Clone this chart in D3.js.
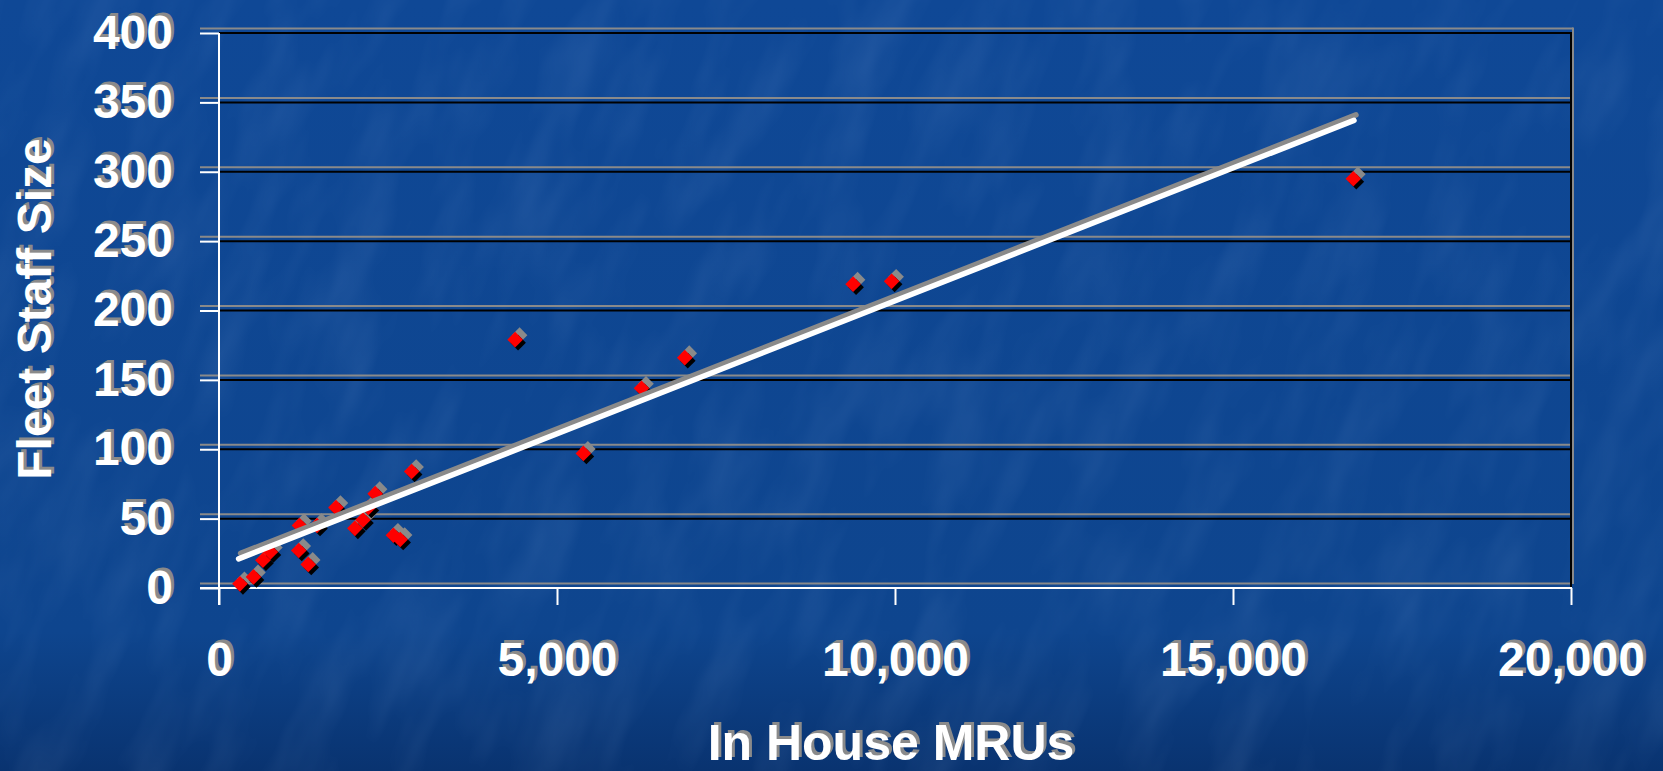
<!DOCTYPE html>
<html>
<head>
<meta charset="utf-8">
<script src="https://cdn.jsdelivr.net/npm/d3@7"></script>
<style>
  html, body { margin: 0; padding: 0; background: #0e4790; }
  svg { display: block; }
  text { font-family: "Liberation Sans", Arial, sans-serif; font-weight: bold; }
</style>
</head>
<body>
<svg id="chart" width="1663" height="771"></svg>
<script>
// In-house MRUs vs. fleet staff size
const mrus      = [310, 510, 650, 760, 1180, 1320, 1190, 1450, 1730, 2010, 2130, 2210, 2310, 2580, 2680, 2850, 4380, 5390, 6250, 6890, 9380, 9950, 16780];
const staffSize = [3, 8, 20, 26, 27, 17, 45, 45, 58, 43, 49, 58, 68, 38, 35, 84, 179, 97, 144, 166, 219, 221, 295];

// Linear trend line end points
const trendX = [290, 16790];
const trendY = [21, 337];

const xTicks = [0, 5000, 10000, 15000, 20000];
const yTicks = [0, 50, 100, 150, 200, 250, 300, 350, 400];

const xTitle = "In House MRUs";
const yTitle = "Fleet Staff Size";

const W = 1663, H = 771;
const plot = { left: 219, right: 1571, top: 33, bottom: 588 };

const svg = d3.select("#chart");
const defs = svg.append("defs");

// Background: deep blue with a soft mottled texture
const grad = defs.append("linearGradient").attr("id", "bg").attr("x1", 0).attr("y1", 0).attr("x2", 0).attr("y2", 1);
grad.append("stop").attr("offset", "0%").attr("stop-color", "#0f4896");
grad.append("stop").attr("offset", "82%").attr("stop-color", "#0e458e");
grad.append("stop").attr("offset", "100%").attr("stop-color", "#093370");

const tex = defs.append("filter").attr("id", "tex")
  .attr("filterUnits", "userSpaceOnUse")
  .attr("x", -900).attr("y", -900).attr("width", 3600).attr("height", 2700);
tex.append("feTurbulence").attr("type", "fractalNoise")
  .attr("baseFrequency", "0.022 0.007").attr("numOctaves", 3).attr("seed", 7);
tex.append("feColorMatrix").attr("type", "matrix")
  .attr("values", "0 0 0 0 0.5  0 0 0 0 0.68  0 0 0 0 1  1.0 0 0 0 -0.42");

svg.append("rect").attr("width", W).attr("height", H).attr("fill", "url(#bg)");
svg.append("g").attr("transform", `rotate(22 ${W / 2} ${H / 2})`)
  .append("rect").attr("x", -900).attr("y", -900).attr("width", 3600).attr("height", 2700)
  .attr("filter", "url(#tex)").attr("opacity", 0.18);

const x = d3.scaleLinear().domain([0, 20000]).range([plot.left, plot.right]);
const y = d3.scaleLinear().domain([0, 400]).range([plot.bottom, plot.top]);

const GRAY = "#8a8a8a";
const TICK_FONT = 48;

// Grid shadows (gray, offset upward)
const grid = svg.append("g");
grid.selectAll("line.gs").data(yTicks).join("line")
  .attr("x1", plot.left - 19).attr("x2", d => d === 400 ? plot.right + 2 : plot.right)
  .attr("y1", d => y(d) - 4.5).attr("y2", d => y(d) - 4.5)
  .attr("stroke", GRAY).attr("stroke-width", 2);
grid.append("line")
  .attr("x1", plot.right + 2).attr("x2", plot.right + 2)
  .attr("y1", y(400) - 5.5).attr("y2", plot.bottom - 4)
  .attr("stroke", GRAY).attr("stroke-width", 2);

// Black grid lines and right border
grid.selectAll("line.g").data(yTicks.filter(d => d > 0)).join("line")
  .attr("x1", plot.left).attr("x2", plot.right + 1)
  .attr("y1", d => y(d)).attr("y2", d => y(d))
  .attr("stroke", "#000").attr("stroke-width", 2);
grid.append("line")
  .attr("x1", plot.right).attr("x2", plot.right)
  .attr("y1", y(400) - 1).attr("y2", plot.bottom)
  .attr("stroke", "#000").attr("stroke-width", 2);

// Axes: a gray shadow copy for the labels, then the white axis
function yAxis(g, shadow) {
  g.call(d3.axisLeft(y).tickValues(yTicks).tickSize(19).tickSizeOuter(0).tickPadding(27).tickFormat(d3.format("d")));
  g.selectAll("text").attr("font-size", TICK_FONT).attr("fill", shadow ? GRAY : "#fff");
  g.selectAll("line").attr("stroke", shadow ? "none" : "#fff").attr("stroke-width", 2);
  g.select(".domain").remove();
}
function xAxis(g, shadow) {
  g.call(d3.axisBottom(x).tickValues(xTicks).tickSize(17).tickSizeOuter(0).tickPadding(37).tickFormat(d3.format(",")));
  g.selectAll("text").attr("font-size", TICK_FONT).attr("fill", shadow ? GRAY : "#fff");
  g.selectAll("line").attr("stroke", shadow ? "none" : "#fff").attr("stroke-width", 2);
  g.select(".domain").remove();
}

svg.append("g").attr("transform", `translate(${plot.left + 3},-3)`).call(yAxis, true);
svg.append("g").attr("transform", `translate(${plot.left},0)`).call(yAxis, false);
svg.append("g").attr("transform", `translate(3,${plot.bottom - 3})`).call(xAxis, true);
svg.append("g").attr("transform", `translate(0,${plot.bottom})`).call(xAxis, false);

// White axis lines
svg.append("line")
  .attr("x1", plot.left).attr("x2", plot.left)
  .attr("y1", plot.top).attr("y2", plot.bottom + 17)
  .attr("stroke", "#fff").attr("stroke-width", 2);
svg.append("line")
  .attr("x1", plot.left - 19).attr("x2", plot.right + 1)
  .attr("y1", plot.bottom).attr("y2", plot.bottom)
  .attr("stroke", "#fff").attr("stroke-width", 2);

// Axis titles with shadow
function shadowText(g, txt, attrs) {
  [[GRAY, 3, -3], ["#fff", 0, 0]].forEach(([fill, dx, dy]) => {
    const t = g.append("text").text(txt).attr("fill", fill).attr("font-size", attrs.size)
      .attr("text-anchor", "middle");
    if (attrs.rotate) {
      t.attr("transform", `translate(${attrs.x + dx},${attrs.y + dy}) rotate(-90)`);
    } else {
      t.attr("x", attrs.x + dx).attr("y", attrs.y + dy);
    }
  });
}
shadowText(svg, xTitle, { x: 891, y: 760, size: 50 });
shadowText(svg, yTitle, { x: 51, y: 309, size: 48, rotate: true });

// Data markers: gray and black shadows under a red diamond
const pts = mrus.map((m, i) => ({ m, s: staffSize[i] }));
const diamond = r => `M0,${-r}L${r},0L0,${r}L${-r},0Z`;
const marks = svg.append("g");
[[GRAY, 4.5, -4.5], ["#000", 3, 3], ["#ff0000", 0, 0]].forEach(([fill, dx, dy]) => {
  marks.append("g").selectAll("path").data(pts).join("path")
    .attr("d", diamond(7.8))
    .attr("transform", d => `translate(${x(d.m) + dx},${y(d.s) + dy})`)
    .attr("fill", fill);
});

// Trend line with its gray shadow
const line = d3.line().x(d => x(d[0])).y(d => y(d[1]));
const trend = trendX.map((v, i) => [v, trendY[i]]);
svg.append("path").attr("d", line(trend)).attr("transform", "translate(2,-5.5)")
  .attr("fill", "none").attr("stroke", GRAY).attr("stroke-width", 5.5).attr("stroke-linecap", "round");
svg.append("path").attr("d", line(trend))
  .attr("fill", "none").attr("stroke", "#fff").attr("stroke-width", 5.5).attr("stroke-linecap", "round");
</script>
</body>
</html>
